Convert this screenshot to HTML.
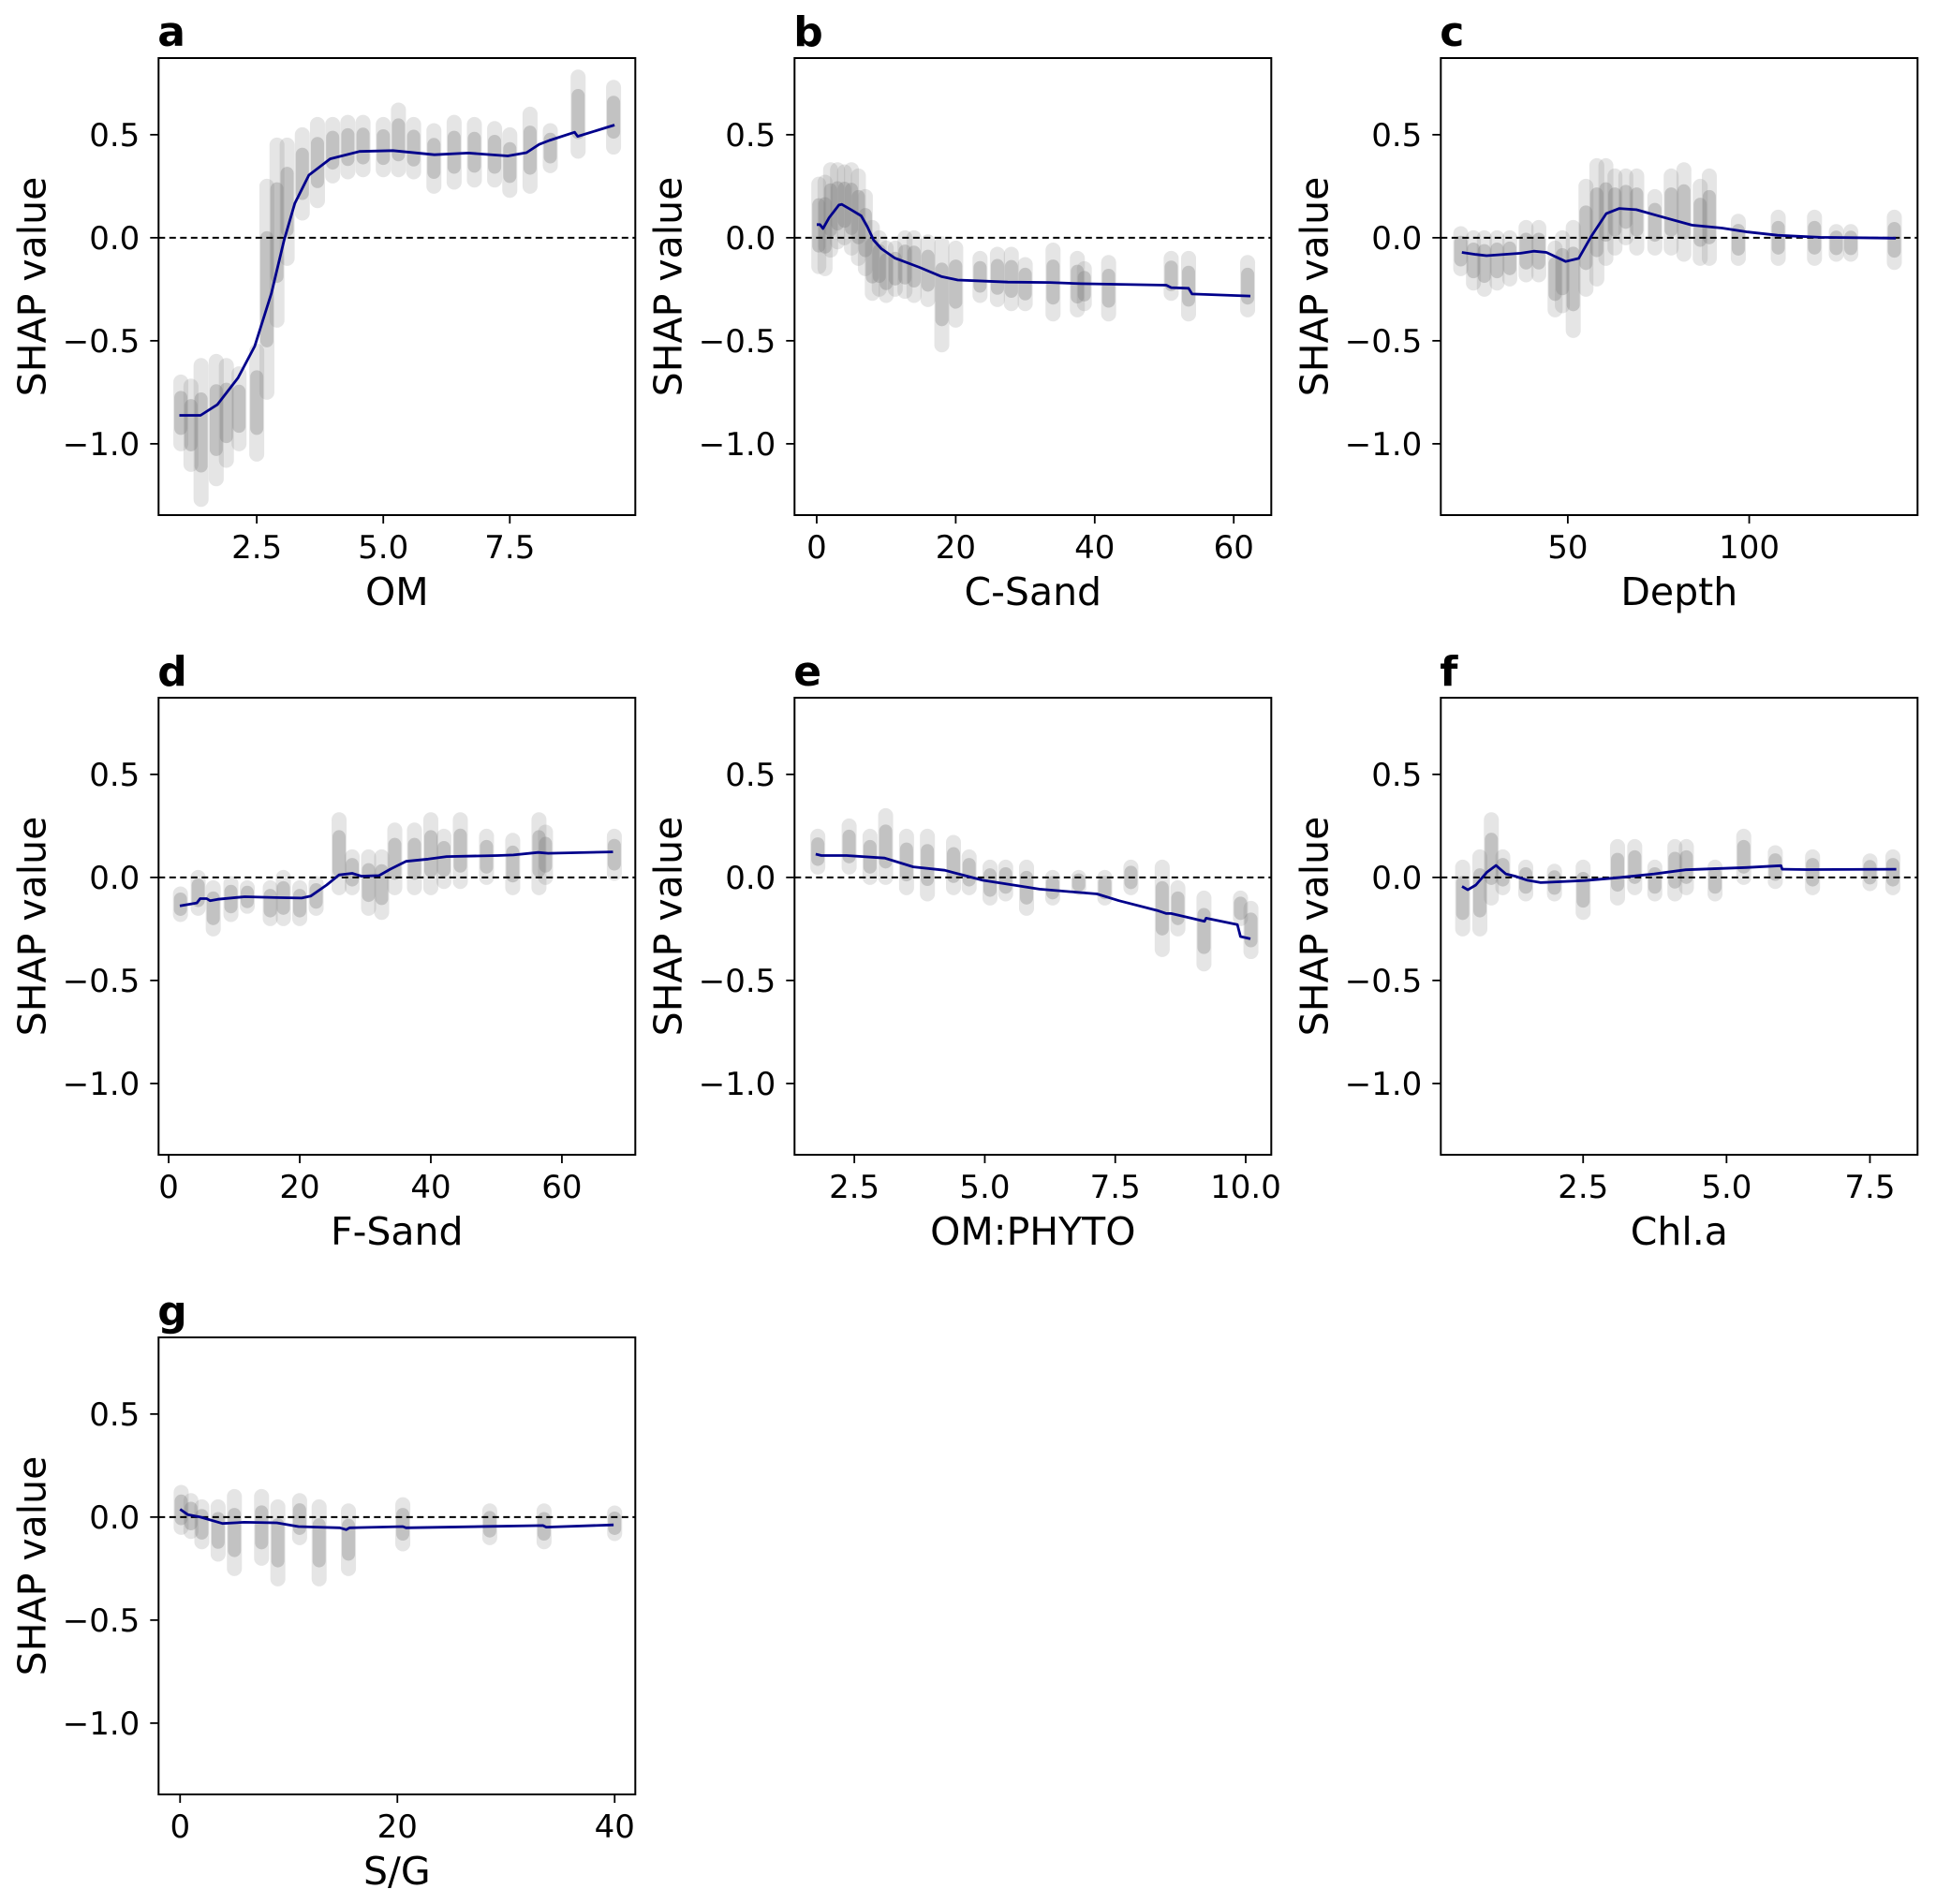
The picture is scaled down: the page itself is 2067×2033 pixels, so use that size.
<!DOCTYPE html>
<html><head><meta charset="utf-8">
<style>
html,body{margin:0;padding:0;background:#fff;}
svg{display:block;font-family:"DejaVu Sans","Liberation Sans",sans-serif;}
</style></head>
<body>
<svg id="fig" width="2067" height="2033" viewBox="0 0 2067 2033" xmlns="http://www.w3.org/2000/svg"></svg>
<script>
// ---- data ----
const panelLetters = ['a','b','c','d','e','f','g'];
const xLabels = ['OM','C-Sand','Depth','F-Sand','OM:PHYTO','Chl.a','S/G'];
const yTicks = [0.5, 0.0, -0.5, -1.0];
const yTickLabels = ['0.5','0.0','\u22120.5','\u22121.0'];
const xTicksA = [2.5,5.0,7.5];           const xTickLabelsA = ['2.5','5.0','7.5'];
const xTicksB = [0,20,40,60];            const xTickLabelsB = ['0','20','40','60'];
const xTicksC = [50,100];                const xTickLabelsC = ['50','100'];
const xTicksD = [0,20,40,60];            const xTickLabelsD = ['0','20','40','60'];
const xTicksE = [2.5,5.0,7.5,10.0];      const xTickLabelsE = ['2.5','5.0','7.5','10.0'];
const xTicksF = [2.5,5.0,7.5];           const xTickLabelsF = ['2.5','5.0','7.5'];
const xTicksG = [0,20,40];               const xTickLabelsG = ['0','20','40'];

// fitted curve (x, y)
const curveAx = [0.97,1.39,1.72,2.13,2.46,2.79,3.04,3.25,3.53,3.95,4.53,5.19,6.01,6.68,7.46,7.83,8.08,8.28,8.78,8.84,9.57];
const curveAy = [-0.862,-0.862,-0.81,-0.68,-0.526,-0.269,-0.012,0.166,0.304,0.383,0.419,0.423,0.403,0.411,0.397,0.413,0.453,0.472,0.512,0.492,0.547];
const curveBx = [0,0.46,0.9,1.8,3.2,3.6,4.8,6.4,7.3,8.2,9.3,11.2,14.8,18,20.3,23,27.5,33.5,38,50.3,51,53.5,54,62.4];
const curveBy = [0.064,0.064,0.045,0.098,0.159,0.162,0.139,0.106,0.053,-0.012,-0.053,-0.098,-0.144,-0.189,-0.205,-0.209,-0.215,-0.217,-0.223,-0.230,-0.242,-0.245,-0.273,-0.283];
const curveCx = [20.8,24.7,27.6,37,40.6,44.1,49.4,53,56.5,60.6,64.2,68.9,74.8,84.2,92.5,99.6,107.8,119.6,140.4];
const curveCy = [-0.071,-0.081,-0.087,-0.075,-0.065,-0.071,-0.115,-0.10,0.008,0.117,0.142,0.136,0.107,0.061,0.047,0.028,0.012,0.002,-0.002];
const curveDx = [1.7,4.3,4.8,5.8,6.3,7.5,11.6,16.4,20.3,21.7,24.1,26,28,29.4,32.1,33.8,36.2,39.6,42.4,50.2,52.6,56.4,57.9,67.8];
const curveDy = [-0.138,-0.124,-0.103,-0.103,-0.113,-0.106,-0.094,-0.098,-0.1,-0.09,-0.037,0.012,0.02,0.006,0.009,0.04,0.078,0.089,0.101,0.106,0.109,0.121,0.117,0.124];
const curveEx = [1.76,1.87,2.35,3.08,3.63,4.23,4.72,4.96,6.05,7.15,7.57,8.3,8.48,8.57,9.21,9.24,9.84,9.9,10.09];
const curveEy = [0.113,0.106,0.106,0.094,0.051,0.035,0.002,-0.014,-0.057,-0.080,-0.113,-0.160,-0.175,-0.175,-0.213,-0.198,-0.229,-0.287,-0.298];
const curveFx = [0.39,0.49,0.63,0.82,0.98,1.15,1.31,1.53,1.76,2.53,3.08,3.74,4.29,5.34,5.95,5.97,6.39,7.96];
const curveFy = [-0.044,-0.06,-0.037,0.025,0.058,0.017,0.006,-0.014,-0.025,-0.015,-0.002,0.017,0.037,0.048,0.057,0.04,0.038,0.04];
const curveGx = [0,0.7,1.87,3.9,5.9,8.9,10.9,12.65,14.7,15.3,15.6,20.5,20.8,33.4,33.7,39.9];
const curveGy = [0.038,0.012,0.0,-0.031,-0.025,-0.028,-0.046,-0.049,-0.052,-0.061,-0.052,-0.046,-0.052,-0.041,-0.049,-0.038];

// scatter clouds as columns: x, lower and upper SHAP value
const cloudAx  = [1.0,1.2,1.4,1.7,1.9,2.15,2.5,2.7,2.9,3.1,3.4,3.7,4.0,4.3,4.6,5.0,5.3,5.6,6.0,6.4,6.8,7.2,7.5,7.9,8.3,8.85,9.55];
const cloudAlo = [-1.0,-1.10,-1.27,-1.17,-1.08,-1.0,-1.05,-0.75,-0.4,-0.1,0.12,0.18,0.3,0.32,0.33,0.33,0.33,0.32,0.25,0.27,0.28,0.28,0.23,0.25,0.35,0.42,0.44];
const cloudAhi = [-0.7,-0.72,-0.62,-0.60,-0.62,-0.66,-0.55,0.25,0.45,0.45,0.50,0.55,0.55,0.56,0.56,0.55,0.62,0.55,0.52,0.56,0.55,0.53,0.50,0.60,0.52,0.78,0.73];
const cloudBx  = [0.3,1.2,2,3,4,5,6,7,8,9,10,11.3,12.7,14,16,18,20,23.5,26,28,30,34,37.5,38.5,42,51,53.5,62];
const cloudBlo = [-0.14,-0.15,-0.06,-0.02,0.0,-0.05,-0.1,-0.15,-0.27,-0.25,-0.28,-0.25,-0.26,-0.28,-0.30,-0.52,-0.40,-0.28,-0.3,-0.32,-0.32,-0.37,-0.35,-0.32,-0.37,-0.27,-0.37,-0.35];
const cloudBhi = [0.26,0.27,0.33,0.33,0.32,0.33,0.30,0.2,0.05,0.0,-0.05,-0.05,0.0,0.0,-0.02,-0.03,-0.05,-0.10,-0.08,-0.08,-0.13,-0.06,-0.1,-0.15,-0.12,-0.1,-0.1,-0.12];
const cloudCx  = [20.5,24,27,30.5,34,38.5,42,46.5,48.5,51.5,55,58,60.5,63,66,69,74,78.5,82,86.5,89,97,108,118,124,128,140];
const cloudClo = [-0.15,-0.22,-0.25,-0.22,-0.2,-0.18,-0.18,-0.35,-0.33,-0.45,-0.25,-0.2,-0.1,-0.05,0.0,-0.05,-0.05,-0.05,-0.08,-0.1,-0.1,-0.1,-0.1,-0.1,-0.08,-0.08,-0.12];
const cloudChi = [0.02,0.0,0.0,0.0,0.0,0.05,0.05,-0.05,0.0,0.05,0.25,0.35,0.35,0.30,0.3,0.3,0.2,0.3,0.33,0.25,0.3,0.08,0.1,0.1,0.03,0.03,0.1];
const cloudDx  = [1.8,4.5,6.8,9.5,12,15.5,17.5,20,22.5,26,28,30.5,32.5,34.5,37.5,40,42,44.5,48.5,52.5,56.5,57.5,68];
const cloudDlo = [-0.18,-0.15,-0.25,-0.18,-0.14,-0.2,-0.2,-0.2,-0.15,-0.05,-0.05,-0.15,-0.17,-0.05,-0.05,-0.05,-0.02,-0.02,0.0,-0.05,-0.05,0.0,0.02];
const cloudDhi = [-0.08,0.0,-0.05,-0.03,-0.05,-0.05,0.0,-0.05,-0.03,0.28,0.1,0.1,0.1,0.23,0.23,0.28,0.2,0.28,0.2,0.18,0.28,0.22,0.2];
const cloudEx  = [1.8,2.4,2.8,3.1,3.5,3.9,4.4,4.7,5.1,5.4,5.8,6.3,6.8,7.3,7.8,8.4,8.7,9.2,9.9,10.1];
const cloudElo = [0.05,0.05,0.0,0.0,-0.05,-0.08,-0.05,-0.05,-0.1,-0.08,-0.15,-0.1,-0.05,-0.1,-0.05,-0.35,-0.25,-0.42,-0.2,-0.36];
const cloudEhi = [0.2,0.25,0.2,0.3,0.2,0.2,0.17,0.1,0.05,0.05,0.05,0.0,0.0,0.0,0.05,0.05,-0.05,-0.1,-0.1,-0.15];
const cloudFx  = [0.4,0.7,0.9,1.1,1.5,2.0,2.5,3.1,3.4,3.75,4.1,4.3,4.8,5.3,5.85,6.5,7.5,7.9];
const cloudFlo = [-0.25,-0.25,-0.1,-0.05,-0.08,-0.08,-0.17,-0.1,-0.05,-0.08,-0.08,-0.05,-0.08,0.0,-0.02,-0.05,-0.03,-0.05];
const cloudFhi = [0.05,0.1,0.28,0.1,0.05,0.03,0.05,0.15,0.15,0.05,0.15,0.15,0.05,0.2,0.12,0.1,0.08,0.1];
const cloudGx  = [0.1,1,2,3.5,5,7.5,9,11,12.8,15.5,20.5,28.5,33.5,40];
const cloudGlo = [-0.05,-0.07,-0.12,-0.18,-0.25,-0.2,-0.3,-0.1,-0.3,-0.25,-0.13,-0.1,-0.12,-0.08];
const cloudGhi = [0.12,0.08,0.05,0.05,0.1,0.1,0.05,0.08,0.05,0.03,0.06,0.03,0.03,0.02];

// ---- layout ----
const NS='http://www.w3.org/2000/svg';
const svg=document.getElementById('fig');
const W=509, H=488;
const colX=[169.3,848.3,1538.3], rowY=[62,745,1428];
const yMin=-1.346, yMax=0.872;
const panels=[
 {xr:[0.56,9.98], ticks:xTicksA, tl:xTickLabelsA, cx:curveAx, cy:curveAy, sx:cloudAx, lo:cloudAlo, hi:cloudAhi, c:0, r:0},
 {xr:[-3.19,65.4], ticks:xTicksB, tl:xTickLabelsB, cx:curveBx, cy:curveBy, sx:cloudBx, lo:cloudBlo, hi:cloudBhi, c:1, r:0},
 {xr:[15,146.4], ticks:xTicksC, tl:xTickLabelsC, cx:curveCx, cy:curveCy, sx:cloudCx, lo:cloudClo, hi:cloudChi, c:2, r:0},
 {xr:[-1.54,71.2], ticks:xTicksD, tl:xTickLabelsD, cx:curveDx, cy:curveDy, sx:cloudDx, lo:cloudDlo, hi:cloudDhi, c:0, r:1},
 {xr:[1.354,10.49], ticks:xTicksE, tl:xTickLabelsE, cx:curveEx, cy:curveEy, sx:cloudEx, lo:cloudElo, hi:cloudEhi, c:1, r:1},
 {xr:[0.019,8.33], ticks:xTicksF, tl:xTickLabelsF, cx:curveFx, cy:curveFy, sx:cloudFx, lo:cloudFlo, hi:cloudFhi, c:2, r:1},
 {xr:[-1.98,41.9], ticks:xTicksG, tl:xTickLabelsG, cx:curveGx, cy:curveGy, sx:cloudGx, lo:cloudGlo, hi:cloudGhi, c:0, r:2}
];
function mk(tag,attrs,parent){const e=document.createElementNS(NS,tag);for(const k in attrs)e.setAttribute(k,attrs[k]);(parent||svg).appendChild(e);return e;}

panels.forEach((p,i)=>{
  const L=colX[p.c], T=rowY[p.r];
  const xs=v=>L+(v-p.xr[0])/(p.xr[1]-p.xr[0])*W;
  const ys=v=>T+(yMax-v)/(yMax-yMin)*H;
  const g=mk('g',{});
  
  
  const sg=mk('g',{},g);
  
  
  p.sx.forEach((x,j)=>{
    const ln=mk('line',{x1:xs(x),x2:xs(x),y1:ys(p.lo[j]),y2:ys(p.hi[j]),stroke:'#8a8a8a','stroke-width':16,'stroke-linecap':'round','stroke-opacity':0.22},sg);
    
    
    const lo2=p.lo[j]+(p.hi[j]-p.lo[j])*0.25, hi2=p.hi[j]-(p.hi[j]-p.lo[j])*0.25;
    const ln2=mk('line',{x1:xs(x),x2:xs(x),y1:ys(lo2),y2:ys(hi2),stroke:'#808080','stroke-width':14,'stroke-linecap':'round','stroke-opacity':0.35},sg);
    
    
  });
  const z=mk('line',{x1:L,x2:L+W,y1:ys(0),y2:ys(0),stroke:'#000','stroke-width':2,'stroke-dasharray':'7,4.5'},g);
  
  
  const d=p.cx.map((x,j)=>(j?'L':'M')+xs(x).toFixed(1)+','+ys(p.cy[j]).toFixed(1)).join(' ');
  const c=mk('path',{d:d,fill:'none',stroke:'#00008b','stroke-width':2.8,'stroke-linejoin':'round'},g);
  
  
  const f=mk('rect',{x:L,y:T,width:W,height:H,fill:'none',stroke:'#000','stroke-width':2},g);
  
  
  yTicks.forEach((v,j)=>{
    const t=mk('line',{x1:L-9,x2:L,y1:ys(v),y2:ys(v),stroke:'#000','stroke-width':1.8},g);
    
    
    const tx=mk('text',{x:L-20,y:ys(v)+12,'text-anchor':'end','font-size':34,fill:'#000'},g);
    tx.textContent=yTickLabels[j];
    
    
  });
  p.ticks.forEach((v,j)=>{
    const t=mk('line',{x1:xs(v),x2:xs(v),y1:T+H,y2:T+H+9,stroke:'#000','stroke-width':1.8},g);
    
    
    const tx=mk('text',{x:xs(v),y:T+H+46,'text-anchor':'middle','font-size':34,fill:'#000'},g);
    tx.textContent=p.tl[j];
    
    
  });
  const xl=mk('text',{x:L+W/2,y:T+H+96,'text-anchor':'middle','font-size':41,fill:'#000'},g);
  xl.textContent=xLabels[i];
  
  
  const yl=mk('text',{x:0,y:0,'text-anchor':'middle','font-size':41,fill:'#000',transform:'translate('+(L-121)+','+(T+H/2)+') rotate(-90)'},g);
  yl.textContent='SHAP value';
  
  
  const pl=mk('text',{x:L-1,y:T-13,'font-size':44,'font-weight':'bold',fill:'#000'},g);
  pl.textContent=panelLetters[i];
  
  
});
</script>
</body></html>
